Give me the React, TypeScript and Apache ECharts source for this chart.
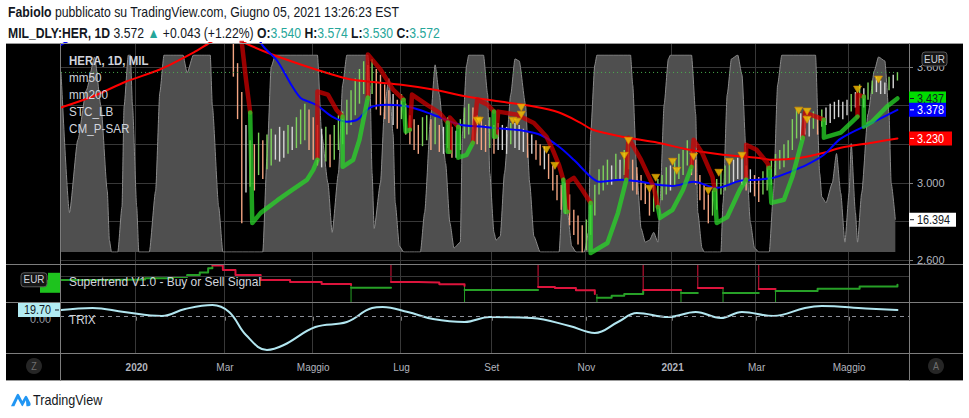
import React, { useEffect, useRef } from "react";
import * as echarts from "echarts";

const FONT = '"Liberation Sans", Arial, sans-serif';
const GRIDC = "#383838";
const SEP = "#7d7d7d";
const AXIS_TEXT = "#b2b5be";
const PANE_TEXT = "#d1d4dc";

// ---- header quote ----
const symbolName = "MIL_DLY:HER";
const timeframe = "1D";
const quoteOHLC = [3.54, 3.574, 3.53, 3.572];
const quoteChange = [0.043, 1.22];

// ---- time axis (trading-day slots) ----
const DAY_COUNT = 404;
const monthTicks: [number, string][] = [
  [36, "2020"], [78, "Mar"], [120, "Maggio"], [162, "Lug"], [205, "Set"],
  [250, "Nov"], [291, "2021"], [331, "Mar"], [375, "Maggio"],
];
const priceTicks = [2.6, 2.8, 3.0, 3.2, 3.4, 3.6];

// ---- price bars (one bar every 2 trading days) ----
const barLow = [
  3.84, 3.86, 3.88, 3.85, 3.87, 3.90, 3.89, 3.86, 3.88, 3.91,
  3.93, 3.90, 3.92, 3.95, 3.97, 3.94, 3.96, 3.99, 4.01, 3.98,
  4.02, 4.05, 4.03, 4.06, 4.08, 4.05, 4.09, 4.11, 4.08, 4.12,
  4.14, 4.11, 4.15, 4.18, 4.16, 4.20, 4.22, 4.17, 4.10, 4.02,
  3.90,
  3.55, 3.33, 2.79, 2.95, 2.98, 2.96, 3.04, 3.02, 3.07, 3.09,
  3.12, 3.11, 3.13, 3.15, 3.17, 3.18, 3.20, 3.22, 3.17, 3.12,
  3.09, 3.08, 3.11, 3.08, 3.12, 3.17, 3.20, 3.25, 3.30, 3.35,
  3.41, 3.46, 3.43, 3.46, 3.38, 3.35, 3.33, 3.31, 3.30, 3.28,
  3.33, 3.25, 3.20, 3.17, 3.15, 3.19, 3.22, 3.17, 3.20, 3.16,
  3.15, 3.18, 3.13, 3.13, 3.17, 3.23, 3.25, 3.22, 3.20, 3.17,
  3.16, 3.18, 3.15, 3.17, 3.17, 3.15, 3.20, 3.18, 3.17, 3.16,
  3.13, 3.15, 3.12, 3.09, 3.07, 3.02, 2.96, 2.91, 2.86, 2.84,
  2.78, 2.73, 2.68, 2.64, 2.65, 2.73, 2.83, 2.94, 2.96, 2.99,
  2.99, 3.02, 3.02, 3.04, 3.07, 2.96, 2.94, 2.91, 2.89, 2.83,
  2.85, 2.88, 2.91, 2.94, 2.96, 2.99, 3.02, 3.04, 3.09, 3.04,
  2.99, 2.91, 2.86, 2.79, 2.83, 2.86, 2.94, 2.96, 2.99, 3.00,
  3.02, 2.99, 2.96, 2.95, 2.93, 2.90, 2.94, 2.96, 2.99, 3.04,
  3.07, 3.08, 3.12, 3.17, 3.23, 3.22, 3.25, 3.24, 3.28, 3.25,
  3.29, 3.30, 3.31, 3.33, 3.34, 3.33, 3.35, 3.37, 3.39, 3.40,
  3.39, 3.43, 3.46, 3.47, 3.46, 3.46, 3.48, 3.49, 3.53,
];
const barHigh = [
  3.90, 3.92, 3.93, 3.91, 3.93, 3.95, 3.94, 3.92, 3.94, 3.97,
  3.98, 3.96, 3.98, 4.01, 4.02, 4.00, 4.02, 4.05, 4.06, 4.04,
  4.08, 4.10, 4.09, 4.12, 4.13, 4.11, 4.15, 4.16, 4.14, 4.18,
  4.20, 4.17, 4.21, 4.24, 4.22, 4.26, 4.29, 4.25, 4.20, 4.12,
  4.02,
  3.95, 3.62, 3.47, 3.30, 3.22, 3.20, 3.26, 3.22, 3.25, 3.28,
  3.25, 3.29, 3.27, 3.30, 3.29, 3.34, 3.38, 3.41, 3.38, 3.34,
  3.30, 3.28, 3.29, 3.25, 3.30, 3.35, 3.37, 3.43, 3.48, 3.54,
  3.59, 3.63, 3.61, 3.64, 3.59, 3.56, 3.51, 3.48, 3.46, 3.43,
  3.46, 3.41, 3.35, 3.33, 3.30, 3.34, 3.35, 3.33, 3.34, 3.30,
  3.29, 3.34, 3.29, 3.27, 3.33, 3.39, 3.41, 3.39, 3.35, 3.33,
  3.30, 3.34, 3.30, 3.31, 3.30, 3.29, 3.31, 3.31, 3.30, 3.28,
  3.26, 3.25, 3.22, 3.20, 3.19, 3.15, 3.09, 3.04, 2.99, 3.00,
  2.94, 2.86, 2.83, 2.78, 2.81, 2.91, 2.99, 3.07, 3.09, 3.12,
  3.09, 3.15, 3.12, 3.17, 3.22, 3.12, 3.08, 3.04, 3.00, 2.96,
  2.99, 3.02, 3.04, 3.08, 3.09, 3.12, 3.15, 3.17, 3.22, 3.17,
  3.12, 3.04, 2.99, 2.94, 2.96, 3.02, 3.07, 3.09, 3.11, 3.12,
  3.13, 3.13, 3.09, 3.07, 3.04, 3.03, 3.06, 3.09, 3.12, 3.15,
  3.17, 3.20, 3.22, 3.33, 3.38, 3.36, 3.35, 3.34, 3.37, 3.35,
  3.38, 3.39, 3.41, 3.42, 3.43, 3.42, 3.43, 3.46, 3.47, 3.51,
  3.49, 3.52, 3.53, 3.55, 3.53, 3.52, 3.55, 3.56, 3.574,
];

// ---- moving averages [day, price] ----
const mm50 = [
  [0, 3.715], [5, 3.745], [20, 3.84], [40, 3.94], [60, 4.02], [80, 4.06], [88, 3.99],
  [95, 3.727], [103, 3.63], [110, 3.5], [114, 3.44], [118, 3.42], [122, 3.4], [129, 3.343],
  [136, 3.317], [141, 3.327], [147, 3.39], [155, 3.405], [165, 3.395], [177, 3.353],
  [190, 3.301], [201, 3.291], [209, 3.281], [220, 3.27], [228, 3.249], [237, 3.187],
  [244, 3.119], [252, 3.031], [256, 3.005], [267, 3.016], [276, 3.005], [284, 2.99],
  [291, 2.984], [301, 3.005], [312, 2.974], [323, 3.01], [331, 3.016], [339, 3.026],
  [347, 3.057], [355, 3.094], [363, 3.145], [371, 3.229], [386, 3.312], [398, 3.378],
];
const mm200 = [
  [0, 3.39], [15, 3.447], [31, 3.525], [47, 3.587], [63, 3.675], [71, 3.727], [79, 3.77],
  [87, 3.727], [98, 3.675], [114, 3.613], [129, 3.561], [138, 3.535], [146, 3.525],
  [161, 3.509], [177, 3.483], [193, 3.447], [209, 3.421], [225, 3.395], [237, 3.364],
  [247, 3.312], [253, 3.275], [267, 3.239], [284, 3.208], [299, 3.171], [315, 3.145],
  [331, 3.13], [339, 3.119], [352, 3.13], [363, 3.156], [371, 3.182], [386, 3.208], [398, 3.23],
];

// ---- STC_LB oscillator 0..100 [day, value] ----
const stc = [
  [0, 91], [4, 20], [8, 57], [12, 82], [16, 99], [19, 74], [22, 31], [23, 6], [24, 0], [27, 0],
  [29, 23], [30, 74], [32, 100], [33, 100], [34, 74], [36, 23], [37, 0], [42, 0], [45, 31],
  [47, 81], [49, 100], [58, 100], [60, 91], [63, 100], [71, 100], [72, 74], [75, 23], [77, 0],
  [96, 0], [98, 48], [100, 94], [102, 100], [122, 100], [124, 60], [127, 35], [129, 10],
  [132, 40], [134, 85], [136, 100], [146, 100], [147, 85], [148, 40], [149, 12], [152, 35],
  [154, 75], [156, 88], [158, 60], [159, 25], [161, 3], [163, 0], [171, 0], [173, 20],
  [176, 70], [178, 95], [180, 80], [183, 45], [185, 15], [187, 2], [190, 5], [191, 60],
  [193, 95], [194, 100], [201, 100], [203, 80], [204, 40], [206, 10], [207, 6], [209, 8],
  [211, 40], [214, 80], [216, 98], [218, 97], [221, 75], [223, 35], [225, 8], [228, 0],
  [237, 0], [239, 38], [241, 20], [243, 3], [245, 0], [249, 0], [251, 10], [252, 60],
  [254, 95], [255, 100], [271, 100], [272, 85], [274, 40], [276, 12], [278, 5], [280, 6],
  [282, 10], [284, 5], [285, 25], [287, 75], [289, 98], [290, 100], [300, 100], [302, 70],
  [303, 20], [305, 2], [306, 0], [314, 0], [315, 25], [317, 80], [319, 98], [322, 100],
  [324, 90], [326, 50], [328, 15], [330, 2], [332, 0], [337, 0], [339, 30], [341, 85],
  [343, 100], [359, 100], [361, 40], [362, 28], [364, 25], [367, 35], [369, 50], [371, 30],
  [373, 5], [375, 30], [376, 55], [378, 20], [379, 5], [381, 30], [384, 70], [387, 92],
  [389, 99], [392, 97], [394, 70], [395, 35], [397, 16.394],
];

// ---- CM_P-SAR trailing line segments [day, price] ----
const sarRed = [
  [[84, 4.0], [86, 3.727], [88, 3.535], [90, 3.364]],
  [[122, 3.13], [122, 3.473], [127, 3.457], [131, 3.379], [134, 3.343]],
  [[146, 3.442], [146, 3.665], [152, 3.587], [158, 3.483], [163, 3.431]],
  [[166, 3.275], [167, 3.457], [174, 3.405], [180, 3.364], [184, 3.312]],
  [[185, 3.161], [185, 3.338], [189, 3.291]],
  [[196, 3.208], [198, 3.431], [203, 3.405], [206, 3.369]],
  [[207, 3.24], [208, 3.369], [217, 3.353], [225, 3.31], [228, 3.275], [231, 3.239], [234, 3.171], [237, 3.09], [239, 3.016]],
  [[241, 2.85], [241, 3.005], [244, 3.026], [248, 2.964], [252, 2.896]],
  [[269, 3.016], [270, 3.234], [276, 3.119], [282, 2.979], [284, 2.875]],
  [[300, 3.083], [301, 3.223], [305, 3.156], [310, 3.031], [311, 2.964]],
  [[326, 3.016], [326, 3.197], [331, 3.171], [336, 3.104], [337, 3.078]],
  [[353, 3.234], [354, 3.364], [363, 3.327]],
  [[379, 3.343], [379, 3.457], [382, 3.447]],
];
const sarGreen = [
  [[90, 3.364], [91, 2.792], [95, 2.844], [103, 2.91], [110, 2.963], [117, 3.015], [120, 3.067], [122, 3.119]],
  [[134, 3.343], [134, 3.083], [139, 3.119], [142, 3.223], [146, 3.442]],
  [[163, 3.431], [164, 3.265], [166, 3.275]],
  [[184, 3.312], [184, 3.161], [185, 3.161]],
  [[189, 3.291], [189, 3.13], [193, 3.145], [196, 3.208]],
  [[206, 3.369], [206, 3.239], [207, 3.24]],
  [[239, 3.016], [240, 2.849], [241, 2.85]],
  [[252, 2.896], [252, 2.636], [260, 2.688], [265, 2.844], [269, 3.016]],
  [[284, 2.875], [285, 2.818], [291, 2.86], [296, 2.964], [300, 3.083]],
  [[311, 2.964], [312, 2.792], [317, 2.823], [323, 2.964], [326, 3.016]],
  [[337, 3.078], [338, 2.896], [344, 2.912], [348, 3.031], [353, 3.234]],
  [[363, 3.327], [363, 3.234], [371, 3.26], [379, 3.343]],
  [[382, 3.447], [382, 3.291], [386, 3.317], [393, 3.395], [398, 3.437]],
];
const sarMarkers = [
  [198, 3.322], [199, 3.322], [215, 3.322], [217, 3.317], [219, 3.39], [219, 3.353],
  [231, 3.171], [235, 3.088], [268, 3.14], [270, 3.218], [280, 2.969], [283, 3.026],
  [291, 3.109], [293, 3.062], [301, 3.135], [308, 2.958], [313, 3.052], [318, 3.109],
  [324, 3.14], [351, 3.374], [355, 3.369], [355, 3.327], [379, 3.483], [389, 3.535],
];

// ---- Supertrend pane ----
const stGreen = [
  [[0, 3.52], [20, 3.54], [40, 3.6], [53, 3.655], [60, 3.75], [66, 3.86], [70, 4.05], [72, 4.11]],
  [[138, 3.16], [157, 3.16]],
  [[192, 3.064], [227, 3.064]],
  [[255, 2.71], [262, 2.8], [268, 2.88], [277, 3.02]],
  [[295, 2.93], [303, 2.93]],
  [[315, 2.93], [332, 2.95]],
  [[340, 3.02], [360, 3.12], [380, 3.22], [398, 3.3]],
];
const stRed = [
  [[72, 4.18], [77, 3.97], [83, 3.75], [95, 3.52], [109, 3.43], [124, 3.34], [138, 3.29]],
  [[157, 3.43], [170, 3.4], [180, 3.33], [192, 3.25]],
  [[227, 3.2], [235, 3.15], [245, 3.05], [254, 2.88]],
  [[277, 3.064], [295, 3.064]],
  [[303, 3.155], [315, 3.155]],
  [[332, 3.11], [340, 3.11]],
];
const stSellSignals = [[72, 4.18], [157, 3.43], [227, 3.2], [277, 3.064], [303, 3.155], [332, 3.11]];
const stBuySignals = [[138, 3.29], [192, 3.25], [255, 2.88], [295, 3.064], [315, 3.155], [340, 3.11]];

// ---- TRIX pane ----
const trix = [
  [0, 19.7], [15, 25.6], [30, 13.8], [48, 2.1], [59, 22.6], [72, 34.4], [80, 13.8], [88, -53.8],
  [98, -97.9], [106, -83.2], [121, -30.3], [136, -15.6], [148, 25.6], [153, 28.5], [165, 13.8],
  [177, -6.8], [192, -15.6], [204, -0.9], [224, -3.8], [242, -27.3], [254, -47.9], [265, -15.6],
  [274, 10.9], [289, -0.9], [302, 13.8], [314, -3.8], [324, 13.8], [339, 2.1], [354, 25.6],
  [362, 31.5], [383, 24.0], [398, 19.7],
];

const BAR_COLORS = ["#d6d6d6", "#f4a582", "#7ed35c"];
const SAR_RED = "rgba(205,0,0,0.75)";
const SAR_GREEN = "rgba(40,215,40,0.75)";
const ST_RED = "#dc143c";
const ST_GREEN = "#27a027";

echarts.graphic.registerShape(
  "tvlogo",
  echarts.graphic.extendPath(
    "M1 15 L7 3 Q8.3 0.8 9.6 3 L13 9.5 L15.5 5 Q16.8 2.8 18.1 5 L21.5 11.5 Q22.5 14.8 19 15 L17.3 15 L16.8 8.6 L13.8 14.2 Q13 15.6 12.2 14.2 L8.3 7 L4.6 15 Z",
    {}
  )
);

function barColorIndex(k: number): number {
  if (k === 0) return 0;
  const m = (barLow[k] + barHigh[k]) / 2;
  const pm = (barLow[k - 1] + barHigh[k - 1]) / 2;
  const d = m - pm;
  if (d > 0.02) return 2;
  if (d < -0.02) return 1;
  return 0;
}

function lineSeg(data: any, xi: number, color: string, width: number, z: number, extra: any = {}) {
  return {
    type: "line", xAxisIndex: xi, yAxisIndex: xi, data, symbol: "none", silent: true, z,
    lineStyle: { color, width, cap: "round", join: "round" }, ...extra,
  };
}

function buildOption(hiddenTicks: number[]) {
  const days = Array.from({ length: DAY_COUNT }, (_, i) => String(i));
  const tickMap = new Map<number, string>(monthTicks);
  const isTick = (i: number) => tickMap.has(i);

  const xAxis = [0, 1, 2, 3, 4].map((g) => ({
    type: "category", gridIndex: g, data: days, boundaryGap: true,
    axisLine: { show: false },
    axisTick: g === 3
      ? { show: true, alignWithLabel: true, interval: (i: number) => isTick(i), length: 4, lineStyle: { color: SEP } }
      : { show: false },
    axisLabel: g === 3
      ? {
          show: true, interval: (i: number) => isTick(i), margin: 9, color: AXIS_TEXT, fontSize: 10, fontFamily: FONT,
          formatter: (_v: string, i: number) => {
            const t = tickMap.get(i) || "";
            return /^\d{4}$/.test(t) ? `{y|${t}}` : t;
          },
          rich: { y: { fontWeight: "bold", color: AXIS_TEXT, fontSize: 10, fontFamily: FONT } },
        }
      : { show: false },
    splitLine: g === 4
      ? { show: true, interval: (i: number) => isTick(i), lineStyle: { color: GRIDC, width: 1 } }
      : { show: false },
  }));

  const isPriceTick = (v: number) => priceTicks.some((t) => Math.abs(t - v) < 1e-6);
  const yAxis = [
    {
      type: "value", gridIndex: 0, position: "right", min: priceTicks[0], max: 3.7245, interval: 0.2,
      axisLine: { show: false },
      axisTick: { show: true, length: 4, lineStyle: { color: SEP } },
      axisLabel: {
        color: AXIS_TEXT, fontSize: 11, margin: 8, fontFamily: FONT,
        formatter: (v: number) =>
          isPriceTick(v) && !hiddenTicks.some((t) => Math.abs(t - v) < 1e-6) ? v.toFixed(3) : "",
      },
      splitLine: { show: true, lineStyle: { color: GRIDC, width: 1 } },
    },
    { type: "value", gridIndex: 1, min: 0, max: 100, show: false },
    { type: "value", gridIndex: 2, min: 2.518, max: 4.245, show: false },
    { type: "value", gridIndex: 3, min: -106.7, max: 43.2, show: false },
    { type: "value", gridIndex: 4, min: 0, max: 1, show: false },
  ];

  const series: any[] = [];
  series.push({
    type: "line", xAxisIndex: 1, yAxisIndex: 1, data: stc, symbol: "none", silent: true, z: 1,
    smooth: 0.2, smoothMonotone: "x",
    lineStyle: { color: "#8a8a8a", width: 1 },
    areaStyle: { color: "#4f4f4f", opacity: 1 },
  });
  series.push({
    type: "custom", xAxisIndex: 0, yAxisIndex: 0, z: 3, silent: true,
    data: barLow.map((lo, k) => [2 * k, lo, barHigh[k], barColorIndex(k)]),
    encode: { x: 0, y: [1, 2] },
    renderItem: (params: any, api: any) => {
      const d = api.value(0);
      const pLo = api.coord([d, api.value(1)]);
      const pHi = api.coord([d, api.value(2)]);
      const cs = params.coordSys;
      const top = cs.y, bot = cs.y + cs.height;
      if (pLo[1] <= top || pHi[1] >= bot) return null;
      return {
        type: "line",
        shape: { x1: pLo[0], y1: Math.min(pLo[1], bot), x2: pLo[0], y2: Math.max(pHi[1], top) },
        style: { stroke: BAR_COLORS[api.value(3)], lineWidth: 1.4 },
      };
    },
  });
  series.push(lineSeg(mm200, 0, "#ff0000", 2, 4, { smooth: 0.3 }));
  series.push(lineSeg(mm50, 0, "#0000ff", 2, 4, { smooth: 0.3 }));
  series.push(lineSeg([[0, quoteOHLC[3]], [2 * (barLow.length - 1), quoteOHLC[3]]], 0, "#4caf50", 1, 4, {
    lineStyle: { color: "#4caf50", width: 1, type: [1, 3] },
  }));
  sarRed.forEach((s) => series.push(lineSeg(s, 0, SAR_RED, 4.5, 5)));
  sarGreen.forEach((s) => series.push(lineSeg(s, 0, SAR_GREEN, 4.5, 5)));
  series.push({
    type: "scatter", xAxisIndex: 0, yAxisIndex: 0, data: sarMarkers, z: 6, silent: true,
    symbol: "triangle", symbolRotate: 180, symbolSize: [8, 7],
    itemStyle: { color: "#f7c600", borderColor: "#d48a00", borderWidth: 0.8 },
  });
  stGreen.forEach((s, i) =>
    series.push(lineSeg(s, 2, ST_GREEN, 2, 4, {
      step: "end",
      ...(i === 0
        ? { markLine: { silent: true, symbol: ["none", "none"], label: { show: false }, lineStyle: { color: GRIDC, type: "solid", width: 1 }, data: [{ yAxis: 3.7 }] } }
        : {}),
    }))
  );
  stRed.forEach((s) => series.push(lineSeg(s, 2, ST_RED, 2, 4, { step: "end" })));
  series.push({
    type: "custom", xAxisIndex: 2, yAxisIndex: 2, z: 4, silent: true,
    data: [...stSellSignals.map(([d, v]) => [d, v, 1]), ...stBuySignals.map(([d, v]) => [d, v, 0])],
    encode: { x: 0, y: 1 },
    renderItem: (params: any, api: any) => {
      const p = api.coord([api.value(0), api.value(1)]);
      const cs = params.coordSys;
      const sell = api.value(2) === 1;
      return {
        type: "line",
        shape: { x1: p[0], y1: p[1], x2: p[0], y2: sell ? cs.y : cs.y + cs.height },
        style: { stroke: sell ? ST_RED : ST_GREEN, lineWidth: 1 },
      };
    },
  });
  series.push(lineSeg(trix, 3, "#b2e6f0", 2, 4, {
    smooth: 0.4,
    markLine: { silent: true, symbol: ["none", "none"], label: { show: false }, lineStyle: { color: "#8a8d96", type: [4, 4], width: 1 }, data: [{ yAxis: 0 }] },
  }));

  return {
    animation: false,
    backgroundColor: "#ffffff",
    grid: [
      { left: 60, top: 43, width: 849, height: 217 },
      { left: 60, top: 55, width: 849, height: 197 },
      { left: 60, top: 264, width: 849, height: 38 },
      { left: 60, top: 302, width: 849, height: 51 },
      { left: 60, top: 43, width: 849, height: 310 },
    ],
    xAxis, yAxis, series,
  };
}

function txt(x: number, y: number, text: string, opts: any = {}) {
  return {
    type: "text", z: opts.z ?? 100, silent: true, x, y, scaleX: opts.sx ?? 0.9, scaleY: 1,
    style: {
      x: 0, y: 0, text, fill: opts.fill ?? PANE_TEXT, fontSize: opts.fontSize ?? 13, fontFamily: FONT,
      fontWeight: opts.fontWeight ?? "normal",
      align: opts.align ?? "left", textAlign: opts.align ?? "left",
      verticalAlign: "middle", textVerticalAlign: "middle",
      rich: opts.rich,
    },
  };
}
function rect(x: number, y: number, w: number, h: number, fill: string, opts: any = {}) {
  return {
    type: "rect", z: opts.z ?? 100, silent: true,
    shape: { x, y, width: w, height: h, r: opts.r ?? 0 },
    style: { fill, stroke: opts.stroke ?? null, lineWidth: opts.stroke ? 1 : 0 },
  };
}
function hline(x1: number, x2: number, y: number, color: string, z = 50) {
  return { type: "line", z, silent: true, shape: { x1, y1: y, x2, y2: y }, style: { stroke: color, lineWidth: 1 } };
}
function vline(x: number, y1: number, y2: number, color: string, z = 50) {
  return { type: "line", z, silent: true, shape: { x1: x, y1, x2: x, y2 }, style: { stroke: color, lineWidth: 1 } };
}

function valueLabels() {
  return [
    { axis: 1, v: stc[stc.length - 1][1], bg: "#ffffff", fg: "#131722", w: 47 },
    { axis: 0, v: mm200[mm200.length - 1][1], bg: "#ff0000", fg: "#ffffff", w: 43 },
    { axis: 0, v: sarGreen[sarGreen.length - 1][sarGreen[sarGreen.length - 1].length - 1][1], bg: "#00dd00", fg: "#131722", w: 37 },
    { axis: 0, v: mm50[mm50.length - 1][1], bg: "#0000ff", fg: "#ffffff", w: 37 },
  ];
}

function buildGraphics(chart: any) {
  const py = (axis: number, v: number) => chart.convertToPixel({ yAxisIndex: axis }, v) as number;
  const els: any[] = [];
  els.push({
    type: "rect", z: -10, silent: true, shape: { x: 6, y: 43, width: 957, height: 338 },
    style: { fill: "#000000" },
  });
  els.push(hline(6, 963, 43.5, "#9b9b9b"));
  els.push(hline(6, 963, 380.5, "#9b9b9b"));
  els.push(vline(60.5, 43, 381, SEP));
  els.push(vline(909.5, 43, 381, SEP));
  els.push(hline(6, 963, 264.5, SEP));
  els.push(hline(6, 963, 302.5, SEP));
  els.push(hline(6, 963, 353.5, SEP));

  // header
  const bold = { fontWeight: "bold", fontSize: 14, fontFamily: FONT, fill: "#131722" };
  const teal = { fontSize: 14, fontFamily: FONT, fill: "#26a69a" };
  els.push(txt(8, 12, "{b|Fabiolo} pubblicato su TradingView.com, Giugno 05, 2021 13:26:23 EST", {
    fill: "#131722", fontSize: 14, rich: { b: bold }, sx: 0.875,
  }));
  const [o, h, l, c] = quoteOHLC;
  els.push(txt(8, 33,
    `{b|${symbolName}, ${timeframe}} ${c.toFixed(3)} {t|▲} +${quoteChange[0].toFixed(3)} (+${quoteChange[1].toFixed(2)}%) {b|O:}{t|${o.toFixed(3)}} {b|H:}{t|${h.toFixed(3)}} {b|L:}{t|${l.toFixed(3)}} {b|C:}{t|${c.toFixed(3)}}`,
    { fill: "#131722", fontSize: 14, rich: { b: bold, t: teal }, sx: 0.87 }
  ));

  // pane legends
  els.push(txt(69, 61, "HERA, 1D, MIL", { fontWeight: "bold", sx: 0.88 }));
  els.push(txt(69, 78, "mm50"));
  els.push(txt(69, 95, "mm200"));
  els.push(txt(69, 112, "STC_LB"));
  els.push(txt(69, 129, "CM_P-SAR"));
  els.push(txt(69, 282, "Supertrend V1.0 - Buy or Sell Signal", { sx: 0.92 }));
  els.push(txt(69, 320, "TRIX"));

  // right price-axis top: EUR button (covers the top of 3.600)
  els.push(rect(910, 44, 52, 21, "#000000", { z: 90 }));
  els.push(rect(922, 52, 25, 14, "#161616", { r: 3, stroke: "#5a5a5a" }));
  els.push(txt(934.5, 59, "EUR", { align: "center", fontSize: 11, z: 101 }));

  // right value labels
  valueLabels().forEach((lb, i) => {
    const y = py(lb.axis, lb.v);
    els.push(rect(909, y - 7, lb.w, 14, lb.bg, { z: 110 + i }));
    els.push({ type: "line", z: 110 + i, silent: true, shape: { x1: 910, y1: y, x2: 914, y2: y }, style: { stroke: lb.fg, lineWidth: 1 } });
    els.push(txt(917, y, lb.v.toFixed(3), { fill: lb.fg, fontSize: 12, z: 110 + i }));
  });

  // supertrend left labels
  const stLast = stGreen[stGreen.length - 1];
  const stY = py(2, stLast[stLast.length - 1][1]);
  els.push(rect(48, stY - 12, 12, 13, "#1ec31e"));
  els.push(rect(40, stY - 5, 20, 13, "#1ec31e"));
  els.push(rect(21, stY - 12, 26, 14, "#161616", { r: 3, stroke: "#5a5a5a", z: 102 }));
  els.push(txt(34, stY - 5, "EUR", { align: "center", fontSize: 11, z: 103 }));

  // TRIX left labels
  const t0 = py(3, 0);
  const tY = py(3, trix[trix.length - 1][1]);
  els.push(txt(51, t0 + 2, "0.00", { align: "right", fontSize: 12, fill: "#9598a1", z: 99 }));
  els.push(rect(18, tY - 7, 42, 14, "#b2ebf2", { z: 104 }));
  els.push(txt(51, tY, trix[trix.length - 1][1].toFixed(2), { align: "right", fontSize: 12, fill: "#131722", z: 105 }));
  els.push({ type: "line", z: 105, silent: true, shape: { x1: 55, y1: tY, x2: 59, y2: tY }, style: { stroke: "#131722", lineWidth: 1 } });

  // Z / A buttons
  els.push({ type: "circle", z: 100, silent: true, shape: { cx: 34, cy: 366, r: 8 }, style: { fill: "#262626" } });
  els.push(txt(34, 366, "Z", { align: "center", fontSize: 10, fill: "#6f6f6f", z: 101 }));
  els.push({ type: "circle", z: 100, silent: true, shape: { cx: 936, cy: 366, r: 8 }, style: { fill: "#262626" } });
  els.push(txt(936, 366, "A", { align: "center", fontSize: 10, fill: "#6f6f6f", z: 101 }));

  // footer logo
  els.push({ type: "tvlogo", z: 100, silent: true, x: 10, y: 392, scaleX: 0.95, scaleY: 0.95, style: { fill: "#2196f3" } });
  els.push(txt(33, 400, "TradingView", { fill: "#131722", fontSize: 14, sx: 0.9 }));
  return els;
}

export default function App() {
  const ref = useRef<HTMLDivElement>(null);
  useEffect(() => {
    if (!ref.current) return;
    const chart = echarts.init(ref.current, undefined, { renderer: "svg" });
    chart.setOption(buildOption([]) as any);
    // hide price-axis tick labels that sit under a value label, as the platform does
    const labelYs = valueLabels().map((lb) => chart.convertToPixel({ yAxisIndex: lb.axis }, lb.v) as number);
    const hidden = priceTicks.filter((t) => {
      const y = chart.convertToPixel({ yAxisIndex: 0 }, t) as number;
      return labelYs.some((ly) => Math.abs(ly - y) < 13);
    });
    chart.setOption(buildOption(hidden) as any, true);
    chart.setOption({ graphic: { elements: buildGraphics(chart) } } as any);
    return () => chart.dispose();
  }, []);
  return <div ref={ref} style={{ position: "absolute", left: 0, top: 0, width: 969, height: 418 }} />;
}
